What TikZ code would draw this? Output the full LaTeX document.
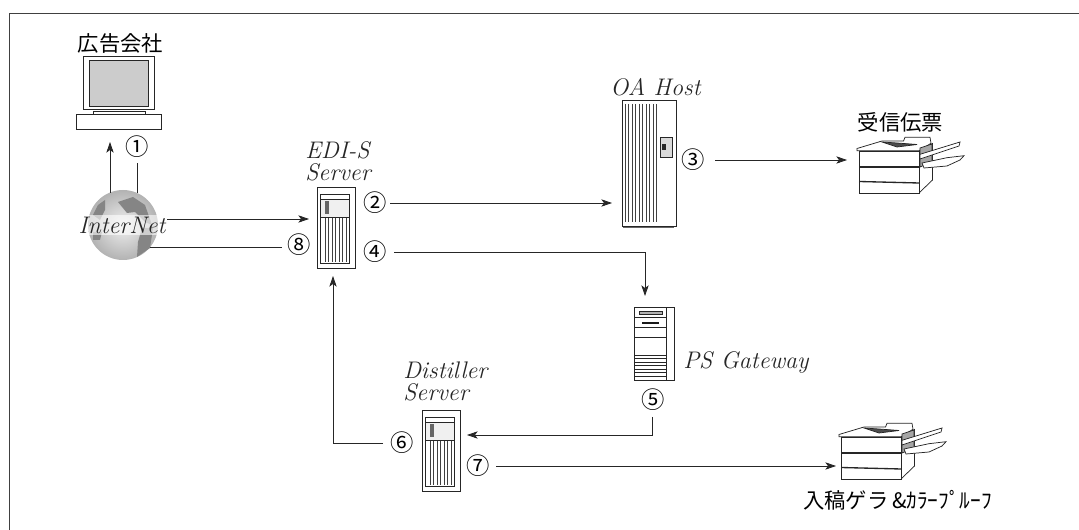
\documentclass[tikz,border=0pt]{standalone}
\usepackage{fontspec}
\usepackage{amsmath}
\setmainfont{Latin Modern Roman}
\newfontfamily\cjk{Noto Sans CJK JP}
\usetikzlibrary{arrows.meta,positioning,shadings}
\tikzset{
    line/.style={draw=black!85, line width=0.6pt},
    flow/.style={line, -{Stealth[length=8pt,width=5.5pt,inset=2pt]}},
    num/.style={inner sep=0pt, font=\cjk\fontsize{17.5}{17.5}\selectfont},
    ilabel/.style={inner sep=0pt, align=left, font=\itshape\fontsize{18}{16.5}\selectfont, text=black!85},
    jlabel/.style={inner sep=0pt, font=\cjk\fontsize{16}{16}\selectfont},
    part/.style={draw=black!85, line width=0.55pt},
    thin part/.style={draw=black!75, line width=0.4pt},
    land/.style={fill=black!48},
}
% サーバ(タワー型)
\newcommand{\towerserver}[1]{
    \begin{scope}[shift={(#1)}]
        \draw[part, line width=0.7pt] (0,0) rectangle (38,81);
        \draw[part, fill=white] (3,7) rectangle (32,76);
        \draw[part, fill=black!6] (3,12) rectangle (32,30);
        \fill[black!60] (8,14) rectangle (12,27);
        \foreach \x in {8,11.5,...,29} {
            \draw[thin part] (\x,31) -- (\x,75);
        }
    \end{scope}
}
% プリンタ
\newcommand{\printer}[1]{
    \begin{scope}[shift={(#1)}]
        \draw[part, fill=white] (62,15) -- (75.5,7.5) -- (75.5,44) -- (62,57) -- cycle;
        \draw[part, fill=white] (2,15) rectangle (62,57);
        \draw[part, fill=white] (0,12.5) -- (25,5) -- (46.5,5) -- (48,1.3) -- (73,1.3) -- (74,7.3) -- (62,14.7) -- (0,14.7) -- cycle;
        \draw[part, fill=black!70] (25,6) -- (40,7) -- (60,8.5) -- (40,11) -- cycle;
        \draw[part, line width=1pt] (2,31) -- (62,31);
        \draw[part, line width=1pt] (2,45.5) -- (62,47);
        \draw[part, fill=black!35] (63,12) -- (75,8) -- (75,26) -- (63,31) -- cycle;
        \draw[part, fill=white] (63,18.3) -- (103,6) -- (102,10) -- (63,23) -- cycle;
        \draw[part, fill=white] (65,27) -- (90,21.7) -- (107,19.7) -- (103,24) -- (90,30) -- (67,32) -- cycle;
    \end{scope}
}
\begin{document}
\begin{tikzpicture}[x=0.75pt,y=-0.75pt]
    \useasboundingbox (0,0) rectangle (1079,530);
    % 外枠
    \draw[black!75, line width=1pt] (9.5,530) -- (9.5,13.5) -- (1079,13.5);

    % 広告会社
    \node[jlabel] (agency) at (120.5,43) {広告会社};
    \draw[part, line width=0.7pt] (83,56) rectangle (154,109);
    \draw[part, fill=black!20] (89,60) rectangle (148,106);
    \draw[part] (93,111) rectangle (145,114);
    \node[draw=black!85, line width=0.55pt, fill=white, minimum width=63.75pt, minimum height=11.25pt, inner sep=0pt] (pc) at (118.5,121.5) {};

    % InterNet
    \shade[inner color=black!6, outer color=black!30] (123,225) circle (35);
    \fill[land] (98,205) -- (105,200) -- (105,210) -- (100,220) -- (93,215) -- cycle;
    \fill[land] (118,202) -- (133,197) -- (145,205) -- (152,225) -- (145,222) -- (135,212) -- (127,213) -- cycle;
    \fill[land] (142,228) -- (153,228) -- (150,248) -- (137,257) -- (138,242) -- cycle;
    \fill[land] (93,232) -- (102,232) -- (100,240) -- (93,240) -- cycle;
    \node[ilabel, fill=white, fill opacity=0.6, text opacity=1, inner sep=1pt] (net) at (122,225) {InterNet};
    \coordinate (netup) at (110,193);
    \coordinate (netdown) at (137,193);
    \coordinate (pcup) at (110,142);
    \coordinate (onestub) at (137,163);
    \coordinate (netright) at (167,219);
    \coordinate (netlow) at (150,247);

    % サーバ
    \towerserver{317,187}
    \towerserver{422,410}
    \node[ilabel, anchor=north west] (edilabel) at (305,141) {EDI-S\\Server};
    \node[ilabel, anchor=north west] (dislabel) at (403,362) {Distiller\\Server};

    % OA Host
    \node[ilabel] (oalabel) at (655.5,87) {OA Host};
    \draw[part, line width=0.7pt] (622,100) rectangle (676,226);
    \foreach \x in {625,628.5,...,659} {
        \draw[thin part, line width=0.5pt] (\x,104) -- (\x,222);
    }
    \draw[part, fill=black!15] (660,137) rectangle (672,157);
    \fill[black!85] (662,144) rectangle (666,150);
    \draw[black!60, line width=1.2pt] (623,227.5) -- (674,227.5);

    % PS Gateway
    \draw[part, line width=0.7pt] (634,307) rectangle (674,380);
    \draw[part] (634,307) rectangle (666,380);
    \draw[part, fill=black!30] (639,311) rectangle (662,314);
    \draw[part] (634,317) -- (666,317);
    \draw[black!90, line width=1.1pt] (642,323) -- (659,323);
    \draw[part] (634,327) -- (666,327);
    \draw[part] (634,337) -- (666,337);
    \foreach \y in {355,358.5,...,379} {
        \draw[part] (634,\y) -- (666,\y);
    }
    \node[ilabel, anchor=west] (pslabel) at (683,363) {PS Gateway};

    % プリンタ
    \printer{857,136}
    \printer{839,422}
    \node[jlabel] (recv) at (900.5,122) {受信伝票};
    \node[jlabel, anchor=west] (proof) at (803,500) {入稿ゲラ\,\&ｶﾗｰﾌﾟﾙｰﾌ};

    % 番号
    \node[num] (n1) at (137,147) {①};
    \node[num] (n2) at (375,203) {②};
    \node[num] (n3) at (693,160) {③};
    \node[num] (n4) at (375,252) {④};
    \node[num] (n5) at (653,400) {⑤};
    \node[num] (n6) at (402,443) {⑥};
    \node[num] (n7) at (478,466) {⑦};
    \node[num] (n8) at (299,245) {⑧};

    % 接続線
    \coordinate (edileft) at (309,219);
    \coordinate (oaleft) at (612,203);
    \coordinate (printerin) at (847,160);
    \coordinate (psin) at (645,296);
    \coordinate (disin) at (467,435);
    \coordinate (edidown) at (333,276);
    \coordinate (proofin) at (836,466);
    \coordinate (twoout) at (390,203);
    \coordinate (threeout) at (715,160);
    \coordinate (fourout) at (394,252);
    \coordinate (fiveout) at (652,417);
    \coordinate (sixout) at (383,443);
    \coordinate (sevenout) at (496,466);
    \coordinate (eightin) at (282,247);
    \draw[flow] (netup) -- (pcup);
    \draw[line] (netdown) -- (onestub);
    \draw[flow] (netright) -- (edileft);
    \draw[line] (netlow) -- (eightin);
    \draw[flow] (twoout) -- (oaleft);
    \draw[flow] (threeout) -- (printerin);
    \draw[flow] (fourout) -| (psin);
    \draw[flow] (fiveout) |- (disin);
    \draw[flow] (sixout) -| (edidown);
    \draw[flow] (sevenout) -- (proofin);
\end{tikzpicture}
\end{document}
